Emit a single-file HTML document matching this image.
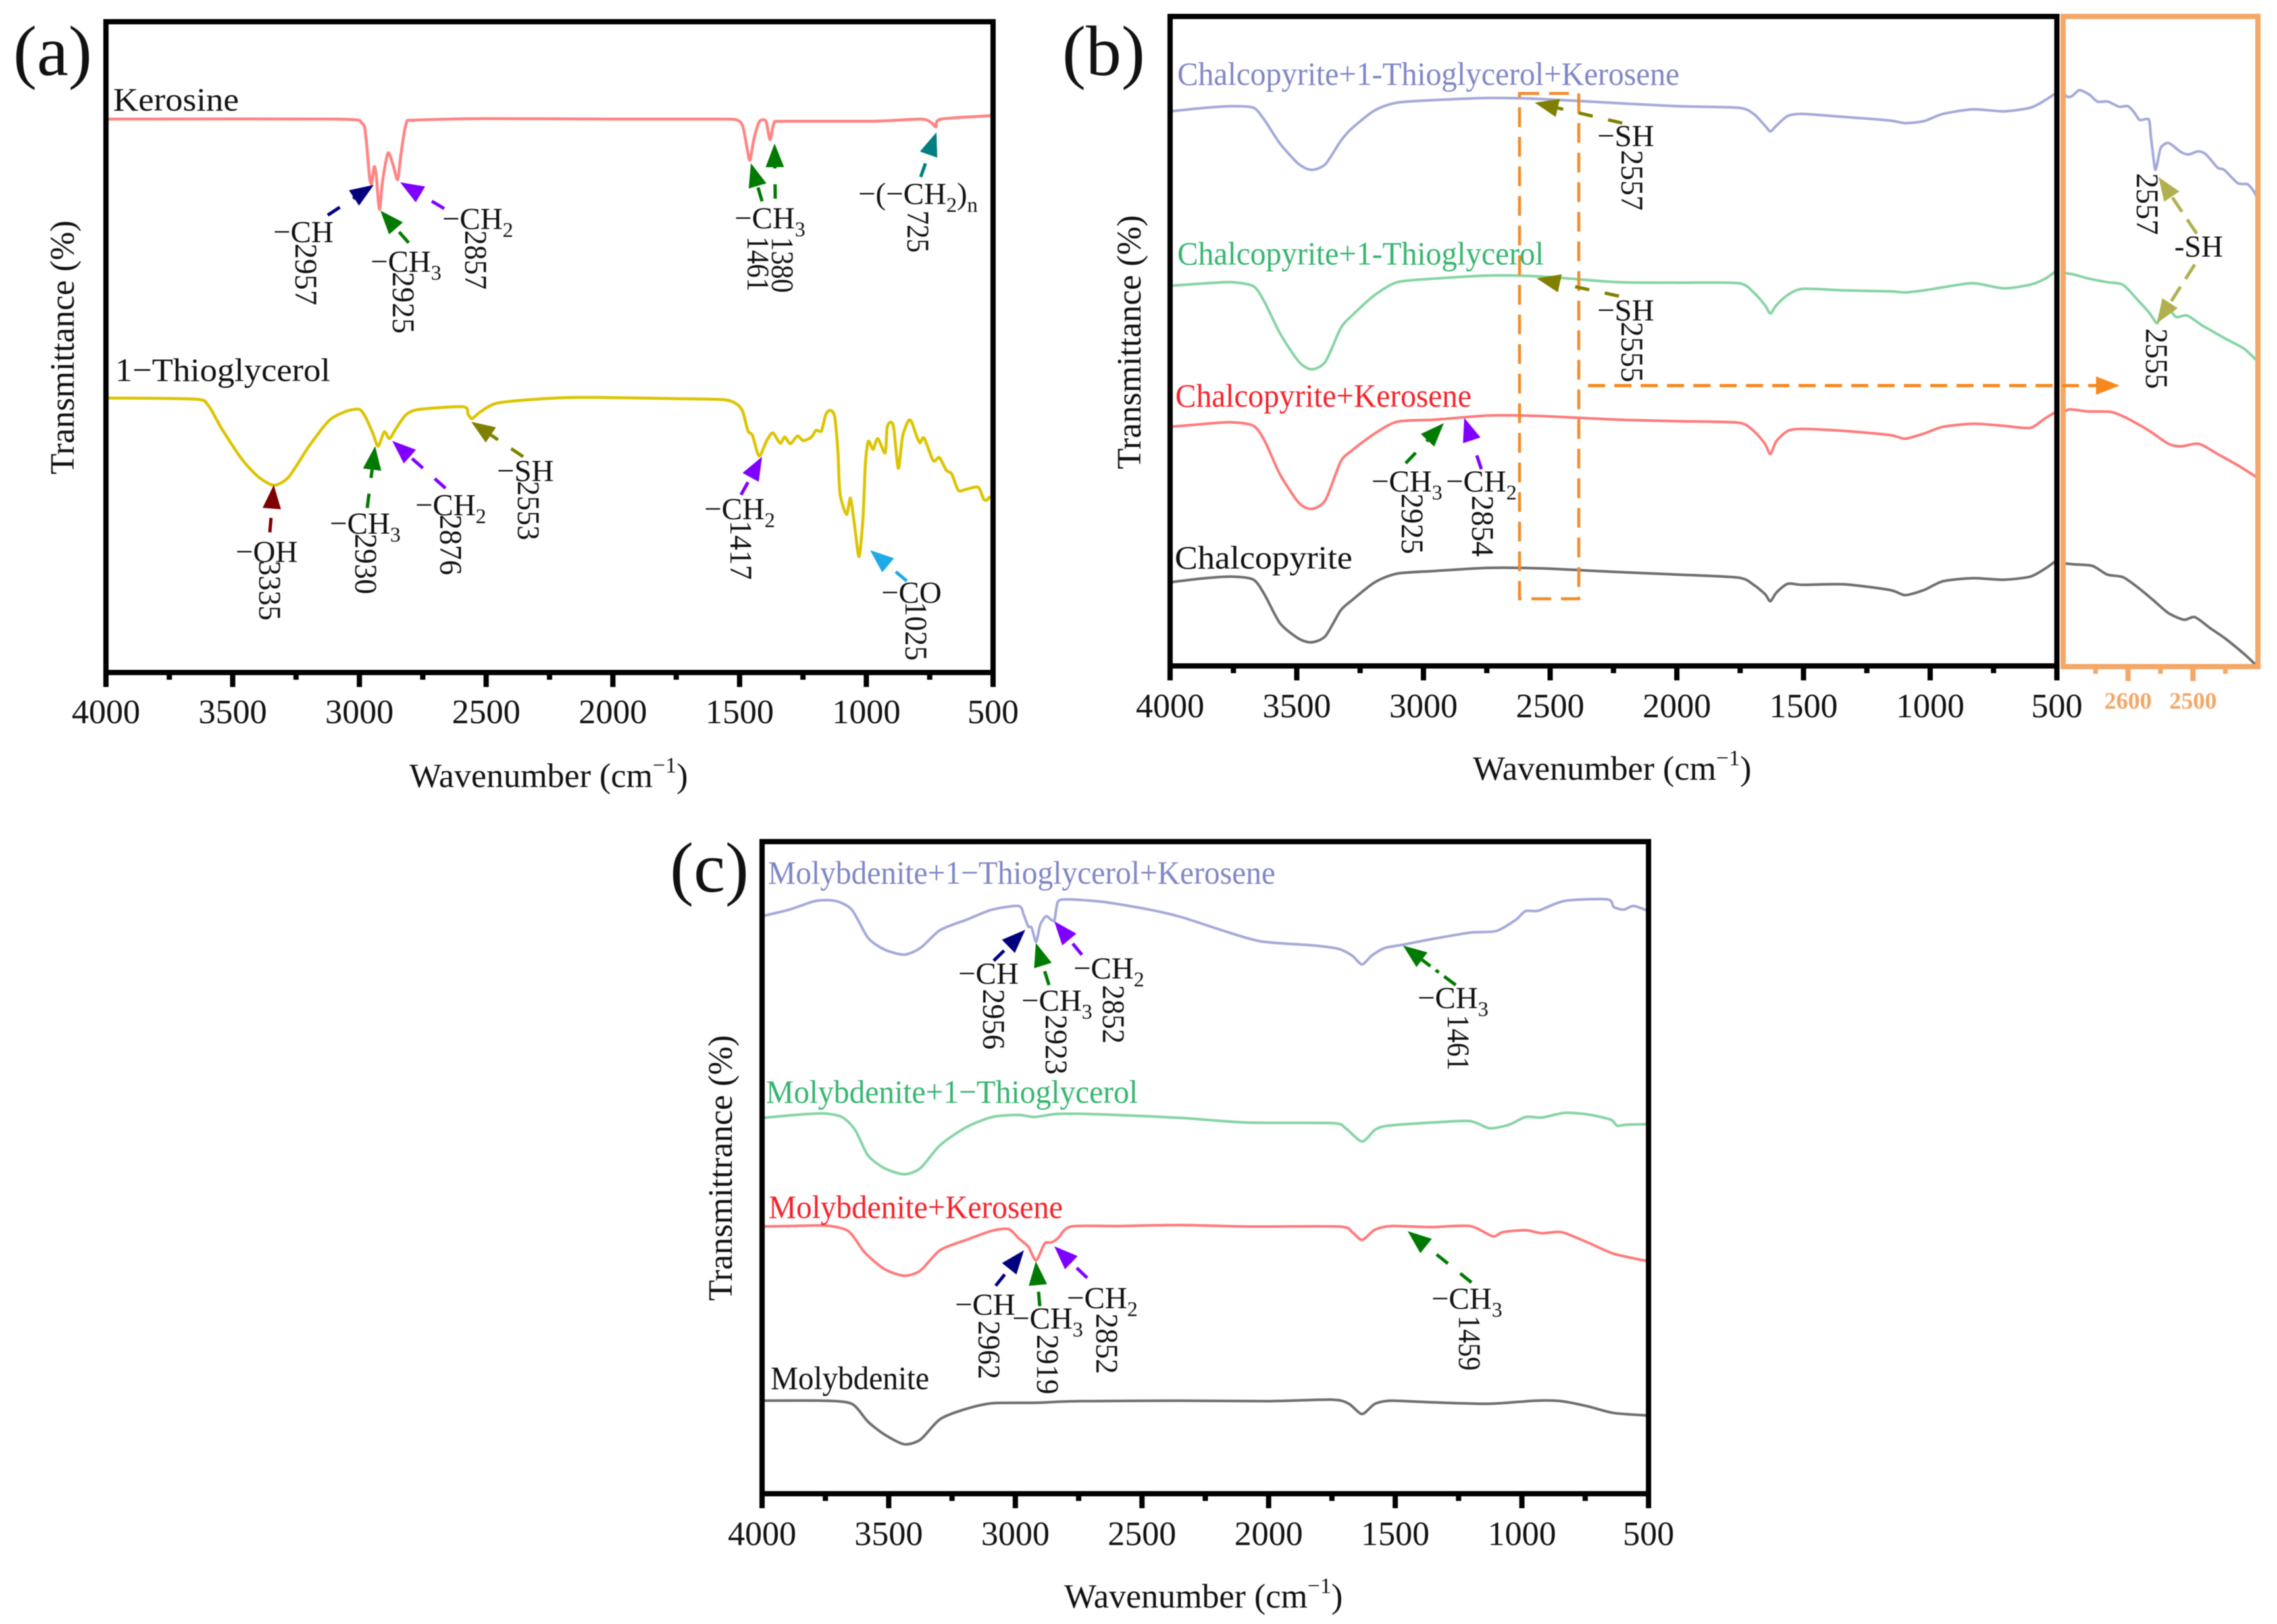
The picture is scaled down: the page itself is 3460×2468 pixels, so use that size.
<!DOCTYPE html>
<html lang="en">
<head>
<meta charset="utf-8">
<title>FTIR spectra panels</title>
<style>
html,body{margin:0;padding:0;background:#fff;}
svg{display:block;filter:blur(0.6px);}
text{font-family:"Liberation Serif",serif;fill:#111;}
.tick{font-size:52px;text-anchor:middle;}
.title{font-size:52px;}
.panel{font-size:108px;}
.legend{font-size:50px;}
.ann{font-size:47px;}
.sub{font-size:32px;}
.num{font-size:48px;}
.frame{fill:none;stroke:#000;stroke-width:8;}
.inset{fill:none;stroke:#f4a766;stroke-width:8;}
</style>
</head>
<body>
<svg xmlns="http://www.w3.org/2000/svg" width="3460" height="2468" viewBox="0 0 3460 2468">
<rect width="3460" height="2468" fill="#fff"/>

<g id="panel-a">
  <g id="a-series"></g>
  <rect class="frame" x="161" y="33" width="1348" height="989"/>
  <g id="a-axis"></g>
  <text class="panel" x="20" y="114">(a)</text>
  <text class="title" transform="translate(112,721) rotate(-90)" textLength="386" lengthAdjust="spacingAndGlyphs">Transmittance (%)</text>
  <text class="title" x="622" y="1196">Wavenumber (cm<tspan dy="-22" font-size="34">−1</tspan><tspan dy="22">)</tspan></text>
  <text class="legend" x="172" y="168" textLength="191" lengthAdjust="spacingAndGlyphs">Kerosine</text>
  <text class="legend" x="175" y="579" textLength="327" lengthAdjust="spacingAndGlyphs">1−Thioglycerol</text>

  <text class="ann" x="415" y="368">−CH</text>
  <text class="num" transform="translate(449,370) rotate(90)" textLength="94" lengthAdjust="spacingAndGlyphs">2957</text>
  <text class="ann" x="563" y="413">−CH<tspan class="sub" dy="12">3</tspan></text>
  <text class="num" transform="translate(597,413) rotate(90)" textLength="94" lengthAdjust="spacingAndGlyphs">2925</text>
  <text class="ann" x="672" y="348">−CH<tspan class="sub" dy="12">2</tspan></text>
  <text class="num" transform="translate(707,350) rotate(90)" textLength="90" lengthAdjust="spacingAndGlyphs">2857</text>
  <text class="ann" x="1116" y="347">−CH<tspan class="sub" dy="12">3</tspan></text>
  <text class="num" transform="translate(1136,359) rotate(90)" textLength="84" lengthAdjust="spacingAndGlyphs">1461</text>
  <text class="num" transform="translate(1173,360) rotate(90)" textLength="85" lengthAdjust="spacingAndGlyphs">1380</text>
  <text class="ann" x="1304" y="310">−(−CH<tspan class="sub" dy="12">2</tspan><tspan dy="-12">)</tspan><tspan class="sub" dy="12">n</tspan></text>
  <text class="num" transform="translate(1379,320) rotate(90)" textLength="64" lengthAdjust="spacingAndGlyphs">725</text>
  <text class="ann" x="358" y="854">−OH</text>
  <text class="num" transform="translate(394,852) rotate(90)" textLength="91" lengthAdjust="spacingAndGlyphs">3335</text>
  <text class="ann" x="501" y="811">−CH<tspan class="sub" dy="12">3</tspan></text>
  <text class="num" transform="translate(540,811) rotate(90)" textLength="92" lengthAdjust="spacingAndGlyphs">2930</text>
  <text class="ann" x="631" y="783">−CH<tspan class="sub" dy="12">2</tspan></text>
  <text class="num" transform="translate(669,782) rotate(90)" textLength="92" lengthAdjust="spacingAndGlyphs">2876</text>
  <text class="ann" x="755" y="731">−SH</text>
  <text class="num" transform="translate(787,731) rotate(90)" textLength="90" lengthAdjust="spacingAndGlyphs">2553</text>
  <text class="ann" x="1070" y="789">−CH<tspan class="sub" dy="12">2</tspan></text>
  <text class="num" transform="translate(1110,791) rotate(90)" textLength="90" lengthAdjust="spacingAndGlyphs">1417</text>
  <text class="ann" x="1339" y="916">−CO</text>
  <text class="num" transform="translate(1376,914) rotate(90)" textLength="90" lengthAdjust="spacingAndGlyphs">1025</text>
</g>

<g id="panel-b">
  <g id="b-series"></g>
  <g id="inset-series"></g>
  <rect class="frame" x="1778" y="25" width="1347.5" height="987"/>
  <rect class="inset" x="3135" y="25" width="296" height="988"/>
  <g id="b-axis"></g>
  <g id="inset-axis"></g>
  <text class="panel" x="1614" y="114">(b)</text>
  <text class="title" transform="translate(1733,713) rotate(-90)" textLength="386" lengthAdjust="spacingAndGlyphs">Transmittance (%)</text>
  <text class="title" x="2238" y="1185">Wavenumber (cm<tspan dy="-22" font-size="34">−1</tspan><tspan dy="22">)</tspan></text>
  <text class="legend" x="1789" y="129" textLength="763" lengthAdjust="spacingAndGlyphs" style="fill:#7f86c6">Chalcopyrite+1-Thioglycerol+Kerosene</text>
  <text class="legend" x="1789" y="402" textLength="557" lengthAdjust="spacingAndGlyphs" style="fill:#35b56e">Chalcopyrite+1-Thioglycerol</text>
  <text class="legend" x="1786" y="618" textLength="450" lengthAdjust="spacingAndGlyphs" style="fill:#f5222a">Chalcopyrite+Kerosene</text>
  <text class="legend" x="1785" y="864" textLength="270" lengthAdjust="spacingAndGlyphs">Chalcopyrite</text>
  <rect x="2309" y="142" width="90" height="768" fill="none" stroke="#f28c28" stroke-width="4.5" stroke-dasharray="30 15"/>

  <text class="ann" x="2427" y="222">−SH</text>
  <text class="num" transform="translate(2464,228) rotate(90)" textLength="92" lengthAdjust="spacingAndGlyphs">2557</text>
  <text class="ann" x="2427" y="487">−SH</text>
  <text class="num" transform="translate(2464,489) rotate(90)" textLength="92" lengthAdjust="spacingAndGlyphs">2555</text>
  <text class="ann" x="2084" y="747">−CH<tspan class="sub" dy="12">3</tspan></text>
  <text class="ann" x="2197" y="747">−CH<tspan class="sub" dy="12">2</tspan></text>
  <text class="num" transform="translate(2130,750) rotate(90)" textLength="92" lengthAdjust="spacingAndGlyphs">2925</text>
  <text class="num" transform="translate(2237,753) rotate(90)" textLength="93" lengthAdjust="spacingAndGlyphs">2854</text>
  <text class="num" transform="translate(3247,263) rotate(90)" textLength="94" lengthAdjust="spacingAndGlyphs">2557</text>
  <text class="num" transform="translate(3261,499) rotate(90)" textLength="92" lengthAdjust="spacingAndGlyphs">2555</text>
  <text class="ann" x="3304" y="390" textLength="74" lengthAdjust="spacingAndGlyphs">-SH</text>
</g>

<g id="panel-c">
  <g id="c-series"></g>
  <rect class="frame" x="1158" y="1279" width="1347" height="991"/>
  <g id="c-axis"></g>
  <text class="panel" x="1018" y="1355">(c)</text>
  <text class="title" transform="translate(1112,1977) rotate(-90)" textLength="404" lengthAdjust="spacingAndGlyphs">Transmittrance (%)</text>
  <text class="title" x="1617" y="2443">Wavenumber (cm<tspan dy="-22" font-size="34">−1</tspan><tspan dy="22">)</tspan></text>
  <text class="legend" x="1167" y="1343" textLength="771" lengthAdjust="spacingAndGlyphs" style="fill:#7f86c6">Molybdenite+1−Thioglycerol+Kerosene</text>
  <text class="legend" x="1164" y="1676" textLength="565" lengthAdjust="spacingAndGlyphs" style="fill:#35b56e">Molybdenite+1−Thioglycerol</text>
  <text class="legend" x="1168" y="1851" textLength="447" lengthAdjust="spacingAndGlyphs" style="fill:#f5222a">Molybdenite+Kerosene</text>
  <text class="legend" x="1171" y="2111" textLength="241" lengthAdjust="spacingAndGlyphs">Molybdenite</text>

  <text class="ann" x="1456" y="1495">−CH</text>
  <text class="num" transform="translate(1494,1503) rotate(90)" textLength="92" lengthAdjust="spacingAndGlyphs">2956</text>
  <text class="ann" x="1552" y="1536">−CH<tspan class="sub" dy="12">3</tspan></text>
  <text class="num" transform="translate(1589,1542) rotate(90)" textLength="91" lengthAdjust="spacingAndGlyphs">2923</text>
  <text class="ann" x="1631" y="1487">−CH<tspan class="sub" dy="12">2</tspan></text>
  <text class="num" transform="translate(1676,1497) rotate(90)" textLength="89" lengthAdjust="spacingAndGlyphs">2852</text>
  <text class="ann" x="2154" y="1532">−CH<tspan class="sub" dy="12">3</tspan></text>
  <text class="num" transform="translate(2200,1542) rotate(90)" textLength="85" lengthAdjust="spacingAndGlyphs">1461</text>
  <text class="ann" x="1451" y="1998">−CH</text>
  <text class="num" transform="translate(1487,2007) rotate(90)" textLength="89" lengthAdjust="spacingAndGlyphs">2962</text>
  <text class="ann" x="1538" y="2019">−CH<tspan class="sub" dy="12">3</tspan></text>
  <text class="num" transform="translate(1576,2028) rotate(90)" textLength="91" lengthAdjust="spacingAndGlyphs">2919</text>
  <text class="ann" x="1621" y="1988">−CH<tspan class="sub" dy="12">2</tspan></text>
  <text class="num" transform="translate(1666,1996) rotate(90)" textLength="92" lengthAdjust="spacingAndGlyphs">2852</text>
  <text class="ann" x="2175" y="1989">−CH<tspan class="sub" dy="12">3</tspan></text>
  <text class="num" transform="translate(2217,1999) rotate(90)" textLength="84" lengthAdjust="spacingAndGlyphs">1459</text>
</g>
<g id="arrows"></g>
</svg>

<script>
// Shared axis categories
const majorTicks = [4000,3500,3000,2500,2000,1500,1000,500];
const minorTicks = [3750,3250,2750,2250,1750,1250,750];
const insetMajorTicks = [2600,2500];
const insetMinorTicks = [2650,2550,2450];

// Panel (a): wavenumbers (cm-1) and transmittance (arbitrary units)
const kerosineWn = [4000,3093,2990,2974,2960,2952,2942,2934,2921,2908,2887,2868,2849,2836,2815,2780,2500,2000,1600,1515,1488,1470,1459,1443,1422,1396,1380,1364,1329,971,786,746,725,706,500];
const kerosineT = [1078,1078,1070,1040,965,952,985,970,902,960,1012,990,960,1010,1070,1076,1079,1078,1078,1077,1065,1020,998,1040,1073,1074,1038,1070,1074,1074,1078,1072,1063,1078,1085];
const thioglycerolWn = [4000,3650,3597,3544,3464,3398,3337,3279,3199,3120,3053,3000,2974,2947,2926,2902,2881,2855,2815,2763,2590,2571,2555,2523,2457,2297,2165,2032,1767,1566,1514,1488,1467,1449,1423,1393,1369,1340,1322,1300,1272,1249,1216,1199,1177,1160,1142,1125,1112,1104,1078,1063,1047,1033,1026,1013,1004,994,987,973,955,926,918,905,892,874,857,835,822,801,788,772,736,712,684,663,637,606,559,537,524,516,500];
const thioglycerolT = [534,532,520,475,415,380,364,380,440,490,508,512,495,465,440,468,455,475,502,512,517,502,494,507,524,532,535,535,533,531,523,508,470,461,421,451,466,446,458,445,460,451,458,471,470,502,510,498,429,348,307,339,288,232,230,301,404,447,448,434,455,427,476,487,476,397,459,489,488,459,447,456,412,418,393,386,354,356,360,337,335,340,340];

// Panel (b): shared wavenumbers and four series
const chalcopyriteWn = [4000,3880,3761,3671,3626,3566,3492,3441,3387,3327,3282,3192,3103,2953,2744,2534,2235,1996,1757,1697,1652,1631,1607,1562,1503,1338,1159,1099,1024,949,830,710,605,545,500];
const chalcoTripleT = [1083,1089,1093,1090,1065,1020,980,969,980,1025,1050,1085,1100,1105,1109,1107,1099,1093,1090,1078,1055,1044,1055,1074,1078,1072,1065,1060,1064,1078,1087,1083,1090,1105,1120];
const chalcoThioT = [743,747,750,742,710,650,595,580,595,660,685,725,750,757,763,761,750,749,748,730,705,689,705,725,737,734,732,730,734,740,748,738,745,757,773];
const chalcoKeroT = [468,473,477,470,440,375,320,308,325,400,422,455,478,482,490,489,482,479,476,460,435,415,440,460,464,460,452,445,455,468,474,470,466,485,498];
const chalcoT = [165,172,176,170,140,85,55,48,60,110,130,165,182,187,193,192,185,180,174,160,142,128,145,162,160,161,150,140,150,167,173,170,176,192,208];

// Panel (b) inset: 2700-2400 cm-1
const insetTripleWn = [2699,2693,2686,2676,2669,2659,2647,2631,2614,2600,2590,2582,2568,2565,2560,2558,2555,2550,2541,2534,2519,2507,2492,2480,2462,2452,2431,2416,2408,2403,2400];
const insetTripleT = [1118,1111,1113,1124,1122,1115,1102,1102,1092,1093,1080,1066,1067,1035,984,969,981,1011,1021,1019,1004,999,1005,999,973,969,943,941,930,919,911];
const insetThioWn = [2700,2684,2661,2632,2608,2585,2567,2555,2548,2538,2526,2509,2485,2450,2421,2400];
const insetThioT = [768,765,757,750,745,715,690,670,700,700,682,685,665,640,620,595];
const insetKeroWn = [2700,2690,2661,2626,2602,2567,2538,2518,2491,2462,2427,2400];
const insetKeroT = [495,502,498,497,485,460,435,430,435,415,390,368];
const insetChalcoWn = [2700,2684,2655,2632,2608,2585,2561,2538,2514,2497,2473,2450,2421,2400];
const insetChalcoT = [202,200,197,180,175,155,130,105,92,97,75,55,25,0];

// Panel (c)
const molyTripleWn = [4000,3892,3788,3711,3646,3582,3517,3439,3375,3297,3194,3091,2987,2967,2949,2936,2918,2902,2879,2858,2845,2832,2794,2652,2471,2342,2187,2032,1825,1722,1670,1631,1593,1541,1463,1360,1205,1102,1024,986,934,831,663,637,598,559,500];
const molyTripleT = [1127,1140,1157,1157,1140,1085,1062,1052,1065,1100,1120,1140,1147,1130,1107,1105,1077,1110,1127,1120,1120,1155,1160,1155,1140,1125,1100,1078,1070,1063,1050,1033,1050,1065,1072,1082,1095,1098,1120,1137,1138,1157,1160,1145,1140,1147,1137];
const molyThioWn = [4000,3892,3762,3685,3633,3582,3517,3439,3375,3297,3194,3091,2987,2923,2832,2652,2342,2083,1748,1696,1631,1580,1528,1360,1205,1128,1050,986,921,831,740,650,624,585,500];
const molyThioT = [733,738,742,735,710,660,635,623,635,680,715,735,739,735,741,740,733,724,723,713,687,710,718,724,727,713,720,735,734,743,740,730,718,720,721];
const molyKeroWn = [4000,3892,3749,3659,3594,3517,3439,3375,3297,3194,3091,3026,2987,2949,2918,2884,2858,2832,2781,2600,2342,2083,1722,1670,1631,1580,1515,1360,1205,1115,1076,986,921,843,740,637,500];
const molyKeroT = [521,522,523,512,470,438,425,435,475,495,513,516,498,482,455,488,490,498,521,522,524,521,521,510,495,515,522,520,522,502,510,514,508,510,490,468,453];
const molyWn = [4000,3762,3646,3582,3517,3439,3375,3297,3194,3091,2918,2755,2342,2006,1748,1683,1631,1580,1515,1360,1128,947,843,740,637,500];
const molyT = [181,181,175,140,115,96,105,145,165,176,177,180,181,180,183,175,155,175,181,178,175,181,180,170,157,152];

const SVGNS = 'http://www.w3.org/2000/svg';

function linearScale(d0, d1, r0, r1) {
  return function (v) { return r0 + (v - d0) * (r1 - r0) / (d1 - d0); };
}

function smoothPath(pts) {
  let d = 'M' + pts[0][0].toFixed(1) + ' ' + pts[0][1].toFixed(1);
  for (let i = 0; i < pts.length - 1; i++) {
    const p0 = pts[Math.max(i - 1, 0)], p1 = pts[i], p2 = pts[i + 1], p3 = pts[Math.min(i + 2, pts.length - 1)];
    const k = 1 / 8;
    d += ' C' + (p1[0] + (p2[0] - p0[0]) * k).toFixed(1) + ' ' + (p1[1] + (p2[1] - p0[1]) * k).toFixed(1) +
         ' ' + (p2[0] - (p3[0] - p1[0]) * k).toFixed(1) + ' ' + (p2[1] - (p3[1] - p1[1]) * k).toFixed(1) +
         ' ' + p2[0].toFixed(1) + ' ' + p2[1].toFixed(1);
  }
  return d;
}

function drawSeries(parentId, wn, vals, xFn, yFn, color, width, name) {
  const pts = wn.map(function (w, i) { return [xFn(w), yFn(vals[i])]; });
  const path = document.createElementNS(SVGNS, 'path');
  path.setAttribute('d', smoothPath(pts));
  path.setAttribute('fill', 'none');
  path.setAttribute('stroke', color);
  path.setAttribute('stroke-width', width);
  path.setAttribute('stroke-linejoin', 'round');
  
  
  document.getElementById(parentId).appendChild(path);
}

function drawTick(parentId, x, y0, y1, color, width, name) {
  const line = document.createElementNS(SVGNS, 'line');
  line.setAttribute('x1', x);
  line.setAttribute('x2', x);
  line.setAttribute('y1', y0);
  line.setAttribute('y2', y1);
  line.setAttribute('stroke', color);
  line.setAttribute('stroke-width', width);
  
  
  document.getElementById(parentId).appendChild(line);
}

function drawAxis(parentId, xFn, bottom, labelY) {
  majorTicks.forEach(function (t) {
    drawTick(parentId, xFn(t), bottom, bottom + 22, '#000', 8, 'major-tick');
    const label = document.createElementNS(SVGNS, 'text');
    label.setAttribute('x', xFn(t));
    label.setAttribute('y', labelY);
    label.setAttribute('class', 'tick');
    
    
    label.textContent = String(t);
    document.getElementById(parentId).appendChild(label);
  });
  minorTicks.forEach(function (t) {
    drawTick(parentId, xFn(t), bottom, bottom + 11, '#000', 8, 'minor-tick');
  });
}

// Axis functions per panel
const xA = linearScale(4000, 500, 161, 1509);
const yA = linearScale(0, 1268, 1021, 33);
const xB = linearScale(4000, 500, 1778, 3125.5);
const yB = linearScale(0, 1270, 1013.5, 23.4);
const xI = linearScale(2700, 2400, 3135, 3431);
const xC = linearScale(4000, 500, 1158, 2505);
const yC = linearScale(0, 1274, 2269.5, 1278);

const BLUE = '#a4aad9', GREEN = '#86d4a4', RED = '#ff7a7a', GREY = '#6f6f6f';

drawSeries('a-series', kerosineWn, kerosineT, xA, yA, '#ff8484', 4.5, 'kerosine-spectrum');
drawSeries('a-series', thioglycerolWn, thioglycerolT, xA, yA, '#dcc400', 4.5, 'thioglycerol-spectrum');

drawSeries('b-series', chalcopyriteWn, chalcoTripleT, xB, yB, BLUE, 4, 'chalcopyrite-thioglycerol-kerosene-spectrum');
drawSeries('b-series', chalcopyriteWn, chalcoThioT, xB, yB, GREEN, 4, 'chalcopyrite-thioglycerol-spectrum');
drawSeries('b-series', chalcopyriteWn, chalcoKeroT, xB, yB, RED, 4, 'chalcopyrite-kerosene-spectrum');
drawSeries('b-series', chalcopyriteWn, chalcoT, xB, yB, GREY, 4, 'chalcopyrite-spectrum');

drawSeries('inset-series', insetTripleWn, insetTripleT, xI, yB, BLUE, 4, 'inset-chalcopyrite-thioglycerol-kerosene');
drawSeries('inset-series', insetThioWn, insetThioT, xI, yB, GREEN, 4, 'inset-chalcopyrite-thioglycerol');
drawSeries('inset-series', insetKeroWn, insetKeroT, xI, yB, RED, 4, 'inset-chalcopyrite-kerosene');
drawSeries('inset-series', insetChalcoWn, insetChalcoT, xI, yB, GREY, 4, 'inset-chalcopyrite');

drawSeries('c-series', molyTripleWn, molyTripleT, xC, yC, BLUE, 4, 'molybdenite-thioglycerol-kerosene-spectrum');
drawSeries('c-series', molyThioWn, molyThioT, xC, yC, GREEN, 4, 'molybdenite-thioglycerol-spectrum');
drawSeries('c-series', molyKeroWn, molyKeroT, xC, yC, RED, 4, 'molybdenite-kerosene-spectrum');
drawSeries('c-series', molyWn, molyT, xC, yC, GREY, 4, 'molybdenite-spectrum');

drawAxis('a-axis', xA, 1022, 1099);
drawAxis('b-axis', xB, 1012, 1090);
drawAxis('c-axis', xC, 2270, 2348);

insetMinorTicks.forEach(function (t) {
  drawTick('inset-axis', xI(t), 1013, 1024, '#f4a766', 7, 'inset-minor-tick');
});
insetMajorTicks.forEach(function (t) {
  drawTick('inset-axis', xI(t), 1013, 1035, '#f4a766', 8, 'inset-major-tick');
  const label = document.createElementNS(SVGNS, 'text');
  label.setAttribute('x', xI(t));
  label.setAttribute('y', 1077);
  label.setAttribute('text-anchor', 'middle');
  label.setAttribute('font-size', '36');
  label.setAttribute('font-weight', 'bold');
  label.setAttribute('style', 'fill:#f4a766');
  
  
  label.textContent = String(t);
  document.getElementById('inset-axis').appendChild(label);
});

// Annotation arrows (overlay layout, tail -> tip, not chart data)
const NAVY = '#00007f', DKGREEN = '#007a00', PURPLE = '#7f00ff', TEAL = '#007f7f', DKRED = '#7f0000', OLIVE = '#808000', SKY = '#1eaae6', PALE = '#b0b050', ORANGE = '#f7891f';
const arrowLayout = [
  [498,327,568,281,NAVY,'22 24'],[621,369,578,320,DKGREEN,'22 24'],[675,317,608,277,PURPLE,'22 24'],
  [1158,306,1141,248,DKGREEN,'22 24'],[1178,302,1177,218,DKGREEN,'22 24'],[1399,269,1423,201,TEAL,'22 24'],
  [410,809,416,737,DKRED,'22 24'],[558,772,570,678,DKGREEN,'22 24'],[677,742,596,670,PURPLE,'22 24'],
  [795,694,716,641,OLIVE,'22 24'],[1126,752,1158,694,PURPLE,'22 24'],[1378,883,1322,836,SKY,'22 24'],
  [2465,187,2332,156,OLIVE,'22 24'],[2460,450,2335,423,OLIVE,'22 24'],
  [2136,704,2194,643,DKGREEN,'22 24'],[2251,713,2225,635,PURPLE,'22 24'],
  [2413,586,3221,586,ORANGE,'26 14'],
  [3338,355,3280,269,PALE,'26 14'],[3335,402,3278,491,PALE,'26 14'],
  [1510,1460,1558,1413,NAVY,'22 24'],[1594,1497,1574,1433,DKGREEN,'22 24'],[1644,1451,1602,1400,PURPLE,'22 24'],
  [2212,1497,2132,1437,DKGREEN,'22 10 6 10'],
  [1513,1954,1556,1900,NAVY,'22 24'],[1580,1985,1574,1917,DKGREEN,'22 24'],[1652,1942,1602,1894,PURPLE,'22 24'],
  [2236,1949,2139,1871,DKGREEN,'22 24']
];
arrowLayout.forEach(function (a) {
  const dx = a[2] - a[0], dy = a[3] - a[1], len = Math.hypot(dx, dy);
  const ux = dx / len, uy = dy / len, headLen = 36, half = 14;
  const bx = a[2] - ux * headLen, by = a[3] - uy * headLen;
  const shaft = document.createElementNS(SVGNS, 'line');
  shaft.setAttribute('x1', a[0]);
  shaft.setAttribute('y1', a[1]);
  shaft.setAttribute('x2', bx);
  shaft.setAttribute('y2', by);
  shaft.setAttribute('stroke', a[4]);
  shaft.setAttribute('stroke-width', 5);
  shaft.setAttribute('stroke-dasharray', a[5]);
  
  
  document.getElementById('arrows').appendChild(shaft);
  const head = document.createElementNS(SVGNS, 'polygon');
  head.setAttribute('points', a[2] + ',' + a[3] + ' ' + (bx - uy * half) + ',' + (by + ux * half) + ' ' + (bx + uy * half) + ',' + (by - ux * half));
  head.setAttribute('fill', a[4]);
  
  
  document.getElementById('arrows').appendChild(head);
});
</script>
</body>
</html>
